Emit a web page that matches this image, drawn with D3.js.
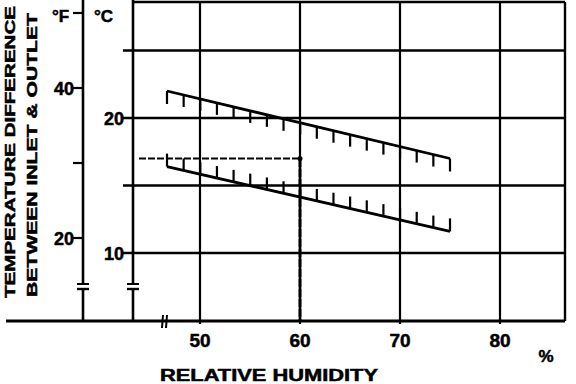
<!DOCTYPE html>
<html><head><meta charset="utf-8">
<script src="https://cdn.jsdelivr.net/npm/d3@7"></script>
<style>body{margin:0;background:#fff}svg{display:block}text{font-family:"Liberation Sans",Arial,sans-serif;font-weight:bold;fill:#000;stroke:#000;stroke-width:0.5px}</style>
</head><body><svg id="c" width="576" height="384"></svg>
<script>
// ---- data ----
const xTicks = [50, 60, 70, 80];
const xTickLabels = ["50", "60", "70", "80"];
const cTicks = [25, 20, 15, 10];
const cTickLabels = ["", "20", "", "10"];
const fTicks = [50, 40, 30, 20];
const fTickLabels = ["", "40", "", "20"];
const upperLine = [[46.7, 22.0], [75, 17.0]];
const lowerLine = [[46.7, 16.4], [75, 11.6]];
const hatchIntervals = 17;
const refPoint = [60, 17.0];

(function () {
const svg = d3.select("#c");
const x = d3.scaleLinear().domain([50, 80]).range([200, 500]);
const yC = d3.scaleLinear().domain([10, 20]).range([253, 118]);
const yF = v => yC(v / 1.8);

const pLeft = 133, pRight = 565, pTop = 2, pBottom = 321, fAxisX = 83;

// grid horizontals
cTicks.forEach(t => {
  svg.append("line").attr("x1", pLeft - 10).attr("x2", pRight).attr("y1", yC(t)).attr("y2", yC(t))
    .attr("stroke", "#000").attr("stroke-width", 2.4);
});
// grid verticals
xTicks.forEach(t => {
  svg.append("line").attr("x1", x(t)).attr("x2", x(t)).attr("y1", pTop).attr("y2", pBottom + 3)
    .attr("stroke", "#000").attr("stroke-width", 2.2);
});
// frame
svg.append("line").attr("x1", pLeft).attr("x2", pRight).attr("y1", pTop).attr("y2", pTop).attr("stroke", "#000").attr("stroke-width", 2.6);
svg.append("line").attr("x1", pRight).attr("x2", pRight).attr("y1", pTop).attr("y2", pBottom).attr("stroke", "#000").attr("stroke-width", 2.4);
svg.append("line").attr("x1", pLeft).attr("x2", pLeft).attr("y1", 0).attr("y2", pBottom).attr("stroke", "#000").attr("stroke-width", 2.6);
svg.append("line").attr("x1", fAxisX).attr("x2", fAxisX).attr("y1", 0).attr("y2", pBottom).attr("stroke", "#000").attr("stroke-width", 2.6);
// bottom axis
svg.append("line").attr("x1", 6).attr("x2", pRight).attr("y1", pBottom).attr("y2", pBottom).attr("stroke", "#000").attr("stroke-width", 3);

// F ticks
fTicks.forEach((t, i) => {
  svg.append("line").attr("x1", fAxisX - 10).attr("x2", fAxisX).attr("y1", yF(t)).attr("y2", yF(t)).attr("stroke", "#000").attr("stroke-width", 2.2);
  if (fTickLabels[i]) svg.append("text").attr("x", fAxisX - 9).attr("y", yF(t) + 7).attr("text-anchor", "end").attr("font-size", 18).text(fTickLabels[i]);
});
svg.append("text").attr("x", 52).attr("y", 22).attr("font-size", 17).text("°F");
cTickLabels.forEach((l, i) => {
  if (l) svg.append("text").attr("x", pLeft - 9).attr("y", yC(cTicks[i]) + 7).attr("text-anchor", "end").attr("font-size", 18).text(l);
});
svg.append("text").attr("x", 94).attr("y", 22).attr("font-size", 17).text("°C");

// axis breaks
function hbreak(cx, cy) {
  svg.append("rect").attr("x", cx - 6).attr("y", cy - 3).attr("width", 12).attr("height", 5).attr("fill", "#fff");
  svg.append("line").attr("x1", cx - 6).attr("x2", cx + 6).attr("y1", cy - 3).attr("y2", cy - 3).attr("stroke", "#000").attr("stroke-width", 2);
  svg.append("line").attr("x1", cx - 6).attr("x2", cx + 6).attr("y1", cy + 2).attr("y2", cy + 2).attr("stroke", "#000").attr("stroke-width", 2.4);
}
hbreak(fAxisX, 287);
hbreak(pLeft, 287);
svg.append("line").attr("x1", 163).attr("x2", 162).attr("y1", 315).attr("y2", 328).attr("stroke", "#000").attr("stroke-width", 2);
svg.append("line").attr("x1", 167).attr("x2", 166).attr("y1", 315).attr("y2", 328).attr("stroke", "#000").attr("stroke-width", 2);

// x tick labels
xTicks.forEach((t, i) => {
  svg.append("text").attr("x", x(t)).attr("y", 347).attr("text-anchor", "middle").attr("font-size", 19).text(xTickLabels[i]);
});
svg.append("text").attr("x", 546).attr("y", 362).attr("text-anchor", "middle").attr("font-size", 17).text("%");
svg.append("text").attr("x", 269).attr("y", 381).attr("text-anchor", "middle").attr("font-size", 16)
  .attr("textLength", 218).attr("lengthAdjust", "spacingAndGlyphs").text("RELATIVE HUMIDITY");

// y title
svg.append("text").attr("transform", "translate(15,152) rotate(-90)").attr("text-anchor", "middle").attr("font-size", 15)
  .attr("textLength", 292).attr("lengthAdjust", "spacingAndGlyphs").text("TEMPERATURE DIFFERENCE");
svg.append("text").attr("transform", "translate(37,155) rotate(-90)").attr("text-anchor", "middle").attr("font-size", 15)
  .attr("textLength", 284).attr("lengthAdjust", "spacingAndGlyphs").text("BETWEEN INLET & OUTLET");

// dashed reference
svg.append("line").attr("x1", pLeft + 6).attr("x2", x(refPoint[0])).attr("y1", yC(refPoint[1])).attr("y2", yC(refPoint[1]))
  .attr("stroke", "#000").attr("stroke-width", 2).attr("stroke-dasharray", "7,2");
svg.append("line").attr("x1", x(refPoint[0])).attr("x2", x(refPoint[0])).attr("y1", yC(refPoint[1])).attr("y2", pBottom)
  .attr("stroke", "#000").attr("stroke-width", 3).attr("stroke-dasharray", "9,1");
svg.append("circle").attr("cx", x(refPoint[0])).attr("cy", yC(refPoint[1])).attr("r", 2.5).attr("fill", "#000");

// hatched lines
function hatched(pts, dir) {
  const [a, b] = pts;
  const x0 = x(a[0]), y0 = yC(a[1]), x1 = x(b[0]), y1 = yC(b[1]);
  svg.append("line").attr("x1", x0).attr("y1", y0).attr("x2", x1).attr("y2", y1).attr("stroke", "#000").attr("stroke-width", 2.8);
  for (let i = 0; i <= hatchIntervals; i++) {
    const t = i / hatchIntervals;
    const px = x0 + (x1 - x0) * t, py = y0 + (y1 - y0) * t;
    const len = (i === 0 || i === hatchIntervals) ? 13 : 12;
    svg.append("line").attr("x1", px).attr("x2", px).attr("y1", py).attr("y2", py + dir * len)
      .attr("stroke", "#000").attr("stroke-width", 2.2);
  }
}
hatched(upperLine, 1);
hatched(lowerLine, -1);
})();
</script></body></html>
